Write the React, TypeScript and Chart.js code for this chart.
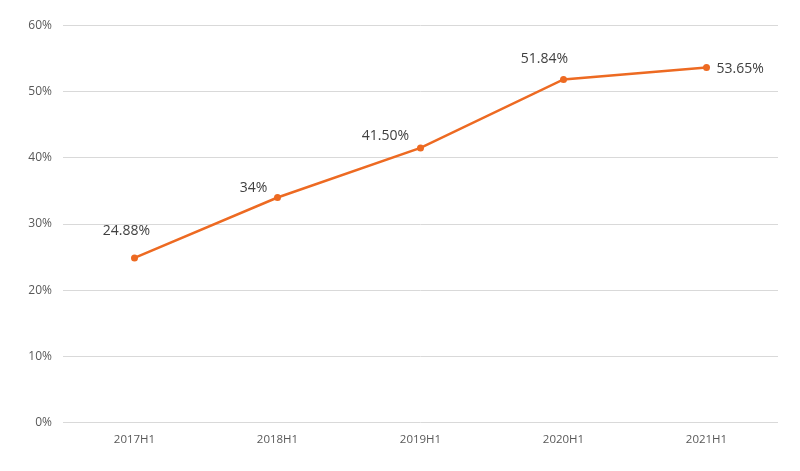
import React, { useEffect, useRef } from "react";
import { Chart, registerables } from "chart.js";

Chart.register(...registerables);

const categories = ["2017H1", "2018H1", "2019H1", "2020H1", "2021H1"];
const values = [24.88, 34, 41.5, 51.84, 53.65];
const valueLabels = ["24.88%", "34%", "41.50%", "51.84%", "53.65%"];
const yTicks = [0, 10, 20, 30, 40, 50, 60];

// label placement relative to point (dx, dy of text center / left)
const labelOffsets: [number, number, CanvasTextAlign][] = [
  [-8, -27, "center"],
  [-24, -10, "center"],
  [-35, -12, "center"],
  [-19, -20, "center"],
  [10, 1, "left"],
];

const FONT = "'Open Sans', 'Noto Sans', sans-serif";

const labelPlugin = {
  id: "valueLabels",
  afterDatasetsDraw(chart: any) {
    const ctx = chart.ctx;
    const meta = chart.getDatasetMeta(0);
    ctx.save();
    ctx.font = `14px ${FONT}`;
    ctx.fillStyle = "#404040";
    ctx.textBaseline = "middle";
    meta.data.forEach((pt: any, i: number) => {
      const [dx, dy, align] = labelOffsets[i];
      ctx.textAlign = align;
      ctx.fillText(valueLabels[i], pt.x + dx, pt.y + dy);
    });
    ctx.restore();
  },
};

export default function App() {
  const ref = useRef<HTMLCanvasElement>(null);
  useEffect(() => {
    if (!ref.current) return;
    const chart = new Chart(ref.current, {
      type: "line",
      data: {
        labels: categories,
        datasets: [
          {
            data: values,
            borderColor: "#ED6A22",
            backgroundColor: "#ED6A22",
            borderWidth: 2.5,
            pointRadius: 3.5,
            pointBackgroundColor: "#ED6A22",
            pointBorderWidth: 0,
            tension: 0,
          },
        ],
      },
      options: {
        animation: false,
        responsive: false,
        maintainAspectRatio: false,
        layout: { padding: { left: 0, top: 25.5, right: 22, bottom: 0 } },
        plugins: { legend: { display: false }, tooltip: { enabled: false } },
        scales: {
          x: {
            offset: true,
            grid: { display: false, drawTicks: false },
            border: { display: false },
            ticks: { color: "#595959", font: { family: FONT, size: 11.5 }, padding: 10 },
            afterFit: (s: any) => {
              s.height = 48.5;
            },
          },
          y: {
            min: 0,
            max: 60,
            afterBuildTicks: (s: any) => {
              s.ticks = yTicks.map((v) => ({ value: v }));
            },
            grid: { color: "#d9d9d9", lineWidth: 1, drawTicks: false },
            border: { display: false },
            ticks: {
              color: "#595959",
              font: { family: FONT, size: 12 },
              padding: 11,
              callback: (v: any) => `${v}%`,
            },
            afterFit: (s: any) => {
              s.width = 63;
            },
          },
        },
      },
      plugins: [labelPlugin],
    });
    return () => chart.destroy();
  }, []);
  return (
    <div style={{ position: "fixed", left: 0, top: 0, width: 800, height: 471, background: "#fff" }}>
      <canvas ref={ref} width={800} height={471} style={{ width: 800, height: 471 }} />
    </div>
  );
}
